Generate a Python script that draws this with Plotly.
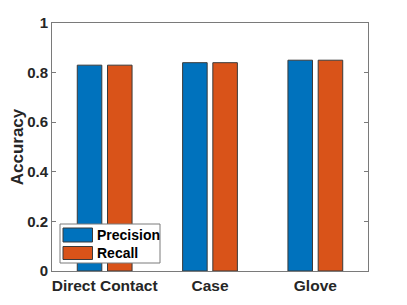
import plotly.graph_objects as go

categories = ["Direct Contact", "Case", "Glove"]
precision = [0.83, 0.84, 0.85]
recall = [0.83, 0.84, 0.85]
series_names = ["Precision", "Recall"]
series_colors = ["#0072BD", "#D95319"]
y_ticks = [0, 0.2, 0.4, 0.6, 0.8, 1]
y_tick_labels = ["0", "0.2", "0.4", "0.6", "0.8", "1"]

# page body has an 8px default margin, so the figure is drawn 8px in from the top-left
OFF = 8
W, H = 407 - OFF, 305 - OFF
ml, mr, mt, mb = 52 - OFF, 39, 23 - OFF, 34

fig = go.Figure()
for name, vals, col in zip(series_names, [precision, recall], series_colors):
    fig.add_trace(go.Bar(
        x=categories, y=vals, name=name,
        marker=dict(color=col, line=dict(color="#3a3a3a", width=1)),
        showlegend=False,
    ))

FAM = "Liberation Sans, Arial, sans-serif"
TXT = "#262626"

fig.update_layout(
    width=W, height=H,
    margin=dict(l=ml, r=mr, t=mt, b=mb),
    paper_bgcolor="white", plot_bgcolor="white",
    barmode="group", bargap=0.426, bargroupgap=0.188,
    font=dict(family=FAM, size=15, color=TXT),
    xaxis=dict(
        range=[-0.5, 2.5], showline=True, linecolor="#7a7a7a", linewidth=1,
        mirror=True, ticks="", showgrid=False, zeroline=False, automargin=False,
        tickfont=dict(family=FAM, size=15.5, color=TXT, weight="bold"),
    ),
    yaxis=dict(
        range=[0, 1], tickvals=y_ticks, ticktext=y_tick_labels,
        showline=True, linecolor="#7a7a7a", linewidth=1, mirror="ticks",
        ticks="inside", ticklen=4, tickcolor="#7a7a7a",
        showgrid=False, zeroline=False, automargin=False,
        title=dict(text="Accuracy", standoff=6,
                   font=dict(family=FAM, size=17, color=TXT, weight="bold")),
        tickfont=dict(family=FAM, size=15, color=TXT, weight="bold"),
    ),
)

# legend box (reference page pixels -> paper fractions)
pw, ph = W - ml - mr, H - mt - mb
def px(x):
    return (x - OFF - ml) / pw
def py(y):
    return 1 - (y - OFF - mt) / ph

fig.add_shape(type="rect", xref="paper", yref="paper",
              x0=px(60), x1=px(160), y0=py(263), y1=py(224),
              line=dict(color="#7a7a7a", width=1), fillcolor="white", layer="above")
rows = [(228, 242), (246.5, 259.5)]
for (t, b), name, col in zip(rows, series_names, series_colors):
    fig.add_shape(type="rect", xref="paper", yref="paper",
                  x0=px(63), x1=px(92.5), y0=py(b), y1=py(t),
                  line=dict(color="#3a3a3a", width=1), fillcolor=col, layer="above")
    fig.add_annotation(xref="paper", yref="paper", x=px(94.5), y=py((t + b) / 2),
                       text=name, showarrow=False,
                       xanchor="left", yanchor="middle",
                       font=dict(family=FAM, size=14, color="#000000", weight="bold"))

fig.write_html("out.html")
